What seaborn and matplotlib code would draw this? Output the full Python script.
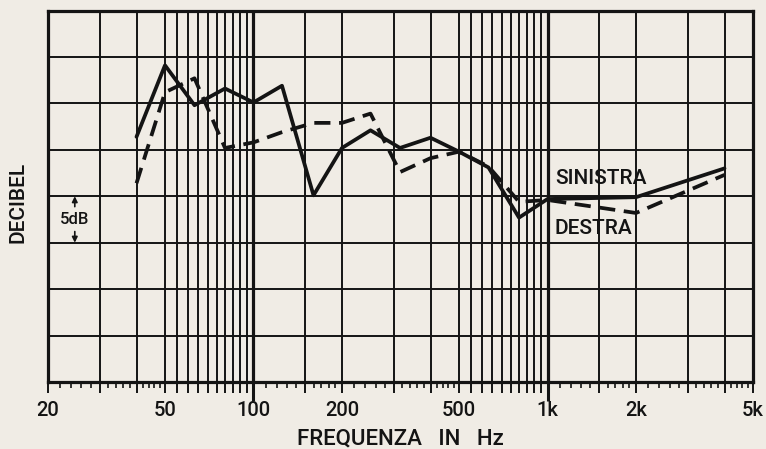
import numpy as np
import pandas as pd
import seaborn as sns
import matplotlib
matplotlib.use("Agg")
import matplotlib.pyplot as plt
from matplotlib.ticker import FixedLocator, NullFormatter, FixedFormatter

# Frequency points (Hz) where the response was read
freq = [40, 50, 63, 80, 100, 125, 160, 200, 250, 315, 400, 500, 630, 800, 1000, 2000, 4000]
# Left channel (solid) and right channel (dashed), in dB
db_sinistra = [26.4, 34.1, 29.8, 31.6, 30.1, 31.9, 20.1, 25.2, 27.1, 25.2, 26.3, 24.8, 23.1, 17.7, 19.7, 19.9, 23.0]
db_destra = [21.4, 31.2, 32.7, 25.2, 25.8, 26.9, 27.9, 27.9, 28.9, 22.6, 24.1, 24.8, 23.2, 19.4, 19.6, 18.2, 22.3]

# Grid lines of the log paper and labelled ticks
grid_freqs = [20, 30, 40, 50, 55, 60, 65, 70, 75, 80, 85, 90, 95, 100, 150, 200, 300, 400,
              500, 550, 600, 650, 700, 750, 800, 850, 900, 950, 1000, 1500, 2000, 3000, 4000, 5000]
tick_labels = {20: '20', 50: '50', 100: '100', 200: '200', 500: '500', 1000: '1k', 2000: '2k', 5000: '5k'}
short_ticks = ([22, 24, 26, 28, 32, 34, 36, 38, 42, 44, 46, 48]
               + [110, 120, 130, 140, 160, 170, 180, 190]
               + [220, 240, 260, 280, 320, 340, 360, 380, 420, 440, 460, 480]
               + [1100, 1200, 1300, 1400, 1600, 1700, 1800, 1900]
               + [2200, 2400, 2600, 2800, 3200, 3400, 3600, 3800, 4200, 4400, 4600, 4800])
db_grid = np.arange(0, 41, 5)

ink = '#141414'
paper = '#f0ece5'

df = pd.DataFrame({
    'freq': freq + freq,
    'db': db_sinistra + db_destra,
    'canale': ['SINISTRA'] * len(freq) + ['DESTRA'] * len(freq),
})

sns.set_style("white")
plt.rcParams['font.family'] = ['Roboto', 'DejaVu Sans']
plt.rcParams['font.weight'] = 'medium'
plt.rcParams['axes.labelweight'] = 'medium'

fig = plt.figure(figsize=(7.66, 4.49), dpi=100, facecolor=paper)
ax = fig.add_axes([48 / 766, 1 - 382 / 449, 705 / 766, 371.5 / 449])
ax.set_facecolor(paper)

sns.lineplot(data=df, x='freq', y='db', style='canale',
             dashes={'SINISTRA': '', 'DESTRA': (4.3, 2.3)},
             color=ink, linewidth=2.7, legend=False, ax=ax,
             estimator=None, sort=False, zorder=4)

ax.set_xscale('log')
ax.set_xlim(20, 5000)
ax.set_ylim(0, 40)

# x ticks: grid lines extend below the axis, plus small ticks between
ax.xaxis.set_major_locator(FixedLocator(grid_freqs))
ax.xaxis.set_major_formatter(FixedFormatter([tick_labels.get(f, '') for f in grid_freqs]))
ax.xaxis.set_minor_locator(FixedLocator(short_ticks))
ax.xaxis.set_minor_formatter(NullFormatter())
ax.tick_params(axis='x', which='both', bottom=True, top=False)
ax.tick_params(axis='x', which='major', direction='out', length=8, width=1.4,
               color=ink, labelsize=14.5, labelcolor=ink, pad=6)
ax.tick_params(axis='x', which='minor', direction='out', length=4.5, width=1.2, color=ink)
for f, t in zip(grid_freqs, ax.xaxis.get_major_ticks()):
    if f in (100, 1000):
        t.tick1line.set_markersize(14)
        t.tick1line.set_markeredgewidth(2.2)

ax.yaxis.set_major_locator(FixedLocator(db_grid))
ax.yaxis.set_major_formatter(NullFormatter())
ax.tick_params(axis='y', which='both', length=0)

# the paper grid
ax.grid(True, which='major', axis='both', color=ink, linewidth=1.4, zorder=1)
for f, gl in zip(grid_freqs, ax.xaxis.get_gridlines()):
    if f in (100, 1000):
        gl.set_linewidth(2.3)
ax.set_axisbelow(True)

for s in ax.spines.values():
    s.set_visible(True)
    s.set_color(ink)
    s.set_linewidth(2.3)

ax.set_xlabel('FREQUENZA   IN   Hz', fontsize=16, color=ink, labelpad=6)
ax.set_ylabel('DECIBEL', fontsize=15, color=ink)
ax.yaxis.set_label_coords(-0.029, 0.482)

# channel labels
ax.text(0.719, 0.549, 'SINISTRA', transform=ax.transAxes, fontsize=15,
        color=ink, ha='left', va='center', zorder=5)
ax.text(0.719, 0.412, 'DESTRA', transform=ax.transAxes, fontsize=15,
        color=ink, ha='left', va='center', zorder=5)

# 5 dB scale marker
ax.text(0.038, 0.438, '5dB', transform=ax.transAxes, fontsize=12,
        color=ink, ha='center', va='center')
arrow = dict(arrowstyle='-|>', color=ink, lw=1.2, mutation_scale=8, shrinkA=0, shrinkB=0)
ax.annotate('', xy=(0.038, 0.5), xytext=(0.038, 0.472), xycoords='axes fraction', arrowprops=arrow)
ax.annotate('', xy=(0.038, 0.375), xytext=(0.038, 0.405), xycoords='axes fraction', arrowprops=arrow)

fig.savefig('out.png', dpi=100, facecolor=paper)
